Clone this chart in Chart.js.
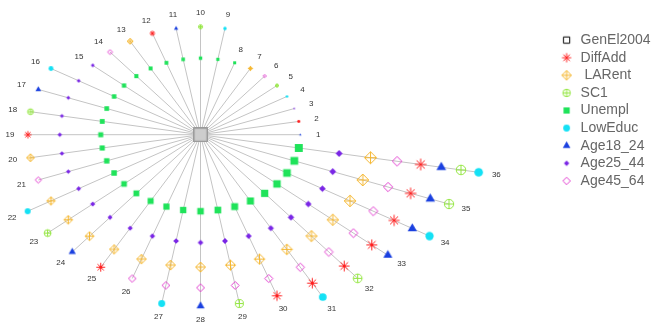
<!DOCTYPE html>
<html>
<head>
<meta charset="utf-8">
<script src="https://cdn.jsdelivr.net/npm/chart.js@4.4.1/dist/chart.umd.min.js"></script>
<style>
  html, body { margin: 0; padding: 0; background: #fff; }
  #wrap { width: 659px; height: 332px; }
</style>
</head>
<body>
<div id="wrap"><canvas id="myChart"></canvas></div>
<script>
// legend order
let variables = ['GenEl2004', 'DiffAdd', 'LARent', 'SC1', 'Unempl', 'LowEduc', 'Age18_24', 'Age25_44', 'Age45_64'];

// order the variables were added (GenEl2004 sits in the middle)
let entered = ['GenEl2004', 'Unempl', 'Age25_44', 'LARent', 'Age45_64', 'DiffAdd', 'Age18_24', 'SC1', 'LowEduc'];

// candidates tried at each step, one spoke each (spokes 1..36 counter-clockwise)
let tried = [
  ['Age18_24', 'DiffAdd', 'Age25_44', 'LowEduc', 'SC1', 'Age45_64', 'LARent', 'Unempl'],
  ['LowEduc', 'SC1', 'Age18_24', 'DiffAdd', 'LARent', 'Age45_64', 'Age25_44'],
  ['LowEduc', 'Age18_24', 'SC1', 'DiffAdd', 'LARent', 'Age45_64'],
  ['LowEduc', 'SC1', 'Age18_24', 'DiffAdd', 'Age45_64'],
  ['LowEduc', 'Age18_24', 'SC1', 'DiffAdd'],
  ['LowEduc', 'SC1', 'Age18_24'],
  ['LowEduc', 'SC1'],
  ['LowEduc']
];

// distance from the centre of the 1st, 2nd, ... variable on a spoke
let ringRadius = [0, 1, 1.41, 1.73, 2, 2.24, 2.45, 2.65, 2.83];

let styles = {
  GenEl2004: { shape: 'square', color: '#000000', f: 1.3 },
  DiffAdd: { shape: 'star', color: '#ff1f1f', f: 1.35 },
  LARent: { shape: 'diamondPlus', color: '#f5b730', f: 1.4 },
  SC1: { shape: 'circlePlus', color: '#93e640', f: 1.1 },
  Unempl: { shape: 'squareFill', color: '#1fe35a', f: 1.3 },
  LowEduc: { shape: 'dot', color: '#14e1f5', f: 1.0 },
  Age18_24: { shape: 'triangle', color: '#1a40e0', f: 1.3 },
  Age25_44: { shape: 'diamondFill', color: '#7a26e6', f: 0.8 },
  Age45_64: { shape: 'diamond', color: '#e23fd0', f: 1.1 }
};

Chart.defaults.font.family = "'Liberation Sans', Arial, sans-serif";

// build the spokes
let spokes = [];
let count = 0;
tried.forEach((step, s) => {
  step.forEach(v => {
    count += 1;
    spokes.push({ n: count, vars: entered.slice(0, s + 1).concat([v]) });
  });
});

function polar(r, n) {
  let a = (n - 1) * 2 * Math.PI / spokes.length;
  return { x: r * Math.cos(a), y: r * Math.sin(a) };
}

let cache = {};
function markerImage(shape, color, r) {
  let key = shape + color + r.toFixed(1);
  if (cache[key]) return cache[key];
  let n = Math.ceil(2 * r + 4);
  let c = document.createElement('canvas');
  c.width = n;
  c.height = n;
  let g = c.getContext('2d');
  let m = n / 2;
  let h = r * Math.SQRT1_2;
  g.strokeStyle = color;
  g.fillStyle = color;
  g.lineWidth = 1;
  g.beginPath();
  if (shape === 'square' || shape === 'squareFill' || shape === 'centre') {
    g.rect(m - h, m - h, 2 * h, 2 * h);
  } else if (shape === 'dot') {
    g.arc(m, m, r, 0, 2 * Math.PI);
  } else if (shape === 'circlePlus') {
    g.arc(m, m, r, 0, 2 * Math.PI);
    g.moveTo(m - r, m); g.lineTo(m + r, m);
    g.moveTo(m, m - r); g.lineTo(m, m + r);
  } else if (shape.indexOf('diamond') === 0) {
    g.moveTo(m, m - r); g.lineTo(m + r, m); g.lineTo(m, m + r); g.lineTo(m - r, m); g.closePath();
    if (shape === 'diamondPlus') {
      g.moveTo(m - r, m); g.lineTo(m + r, m);
      g.moveTo(m, m - r); g.lineTo(m, m + r);
    }
  } else if (shape === 'triangle') {
    g.moveTo(m, m - r); g.lineTo(m + 0.866 * r, m + 0.5 * r); g.lineTo(m - 0.866 * r, m + 0.5 * r); g.closePath();
  } else if (shape === 'star') {
    g.moveTo(m - r, m); g.lineTo(m + r, m);
    g.moveTo(m, m - r); g.lineTo(m, m + r);
    g.moveTo(m - h, m - h); g.lineTo(m + h, m + h);
    g.moveTo(m - h, m + h); g.lineTo(m + h, m - h);
  }
  if (shape === 'centre') {
    g.fillStyle = '#cdcdcd';
    g.fill();
    g.strokeStyle = '#9a9a9a';
    g.stroke();
  } else if (shape === 'squareFill' || shape === 'dot' || shape === 'triangle' || shape === 'diamondFill') {
    g.fill();
  } else {
    g.stroke();
  }
  cache[key] = c;
  return c;
}

function pointMarker(v, n) {
  if (v === 'GenEl2004') return markerImage('centre', '#000', 9);
  let st = styles[v];
  return markerImage(st.shape, st.color, st.f * (0.9 + 0.095 * n));
}

let datasets = variables.map(v => ({
  label: v,
  data: spokes.filter(s => s.vars.indexOf(v) >= 0).map(s => {
    let p = polar(ringRadius[s.vars.indexOf(v)], s.n);
    return { x: p.x, y: p.y, spoke: s.n };
  }),
  pointStyle: ctx => ctx.raw ? pointMarker(v, ctx.raw.spoke) : 'circle',
  pointRadius: 4,
  clip: false,
  order: 0
}));

let spokeLines = [];
spokes.forEach(s => {
  spokeLines.push(polar(ringRadius[0], s.n));
  spokeLines.push(polar(ringRadius[s.vars.length - 1], s.n));
  spokeLines.push({ x: null, y: null });
});
datasets.push({
  label: 'spokes',
  data: spokeLines,
  showLine: true,
  spanGaps: false,
  pointRadius: 0,
  borderColor: '#c4c4c4',
  borderWidth: 1,
  clip: false,
  order: 10
});

let spokeNumbers = {
  id: 'spokeNumbers',
  afterDatasetsDraw(chart) {
    let ctx = chart.ctx;
    let xs = chart.scales.x, ys = chart.scales.y;
    ctx.save();
    ctx.font = "8px 'Liberation Sans', Arial, sans-serif";
    ctx.fillStyle = '#333';
    ctx.textAlign = 'center';
    ctx.textBaseline = 'middle';
    spokes.forEach(s => {
      let p = polar(ringRadius[s.vars.length - 1] + 0.18, s.n);
      ctx.fillText(String(s.n), xs.getPixelForValue(p.x), ys.getPixelForValue(p.y));
    });
    ctx.restore();
  }
};

let myChart = document.getElementById('myChart').getContext('2d');
let chart = new Chart(myChart, {
  type: 'scatter',
  data: { datasets: datasets },
  plugins: [spokeNumbers],
  options: {
    responsive: true,
    maintainAspectRatio: false,
    animation: false,
    events: [],
    layout: { padding: { left: 0, right: 1, top: 0, bottom: 0 } },
    scales: {
      x: { type: 'linear', display: false, bounds: 'data', min: -1.959, max: 3.562 },
      y: { type: 'linear', display: false, bounds: 'data', min: -2.513, max: 1.695 }
    },
    plugins: {
      tooltip: { enabled: false },
      legend: {
        position: 'right',
        align: 'start',
        maxWidth: 102,
        title: { display: true, text: '', font: { size: 10 }, padding: { top: 17.5, bottom: 0 } },
        labels: {
          usePointStyle: true,
          padding: 3.6,
          color: '#000',
          font: { size: 14 },
          generateLabels: () => variables.map((v, i) => ({
            text: v === 'LARent' ? ' LARent' : v,
            pointStyle: markerImage(styles[v].shape, styles[v].color, styles[v].f * 3.4),
            fillStyle: 'transparent',
            strokeStyle: 'transparent',
            lineWidth: 0,
            hidden: false,
            datasetIndex: i
          }))
        }
      }
    }
  }
});
</script>
</body>
</html>
